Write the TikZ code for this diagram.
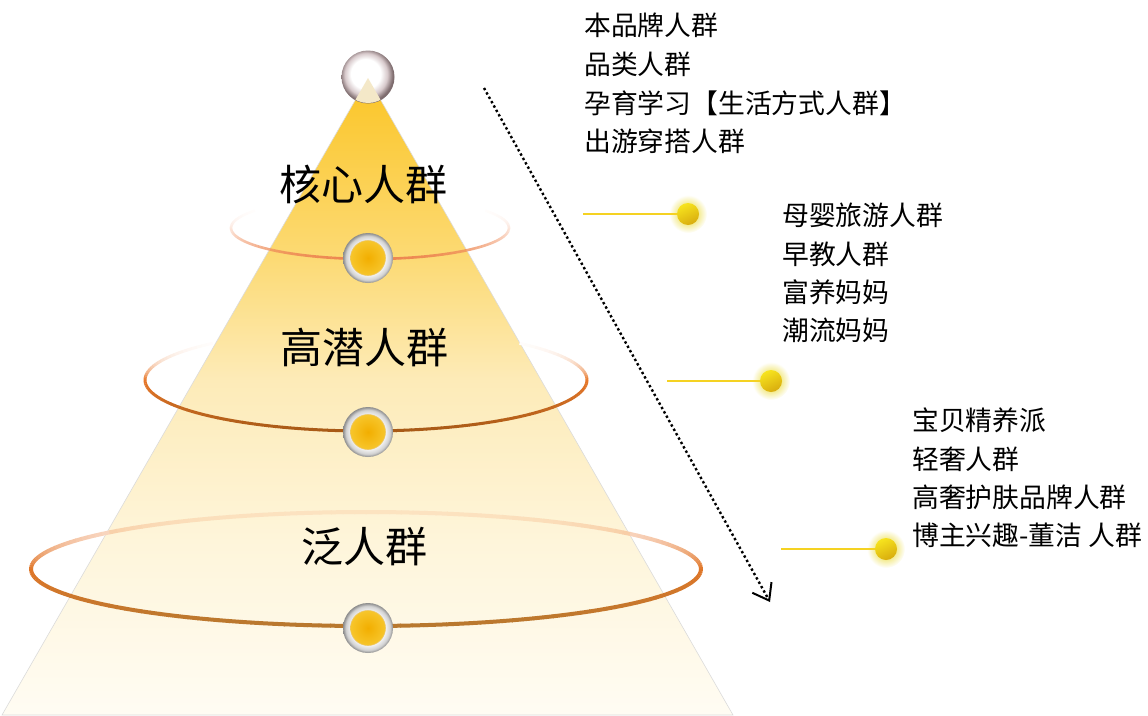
\documentclass[tikz,border=0pt]{standalone}
\usepackage{fontspec}
\setmainfont{Noto Sans CJK SC}
\usetikzlibrary{arrows.meta}

\definecolor{pyt}{HTML}{FBC526}
\definecolor{pye}{HTML}{FCDA74}
\definecolor{pyd}{HTML}{FDEBB8}
\definecolor{pyc}{HTML}{FEF5DA}
\definecolor{pyb}{HTML}{FFFCF3}
\definecolor{sph1}{HTML}{D8CACC}
\definecolor{sph2}{HTML}{7E6C6E}
\definecolor{rg1}{HTML}{D2D2D2}
\definecolor{rg2}{HTML}{8C8C8C}
\definecolor{cr1}{HTML}{F2AE00}
\definecolor{cr2}{HTML}{F9D03E}
\definecolor{crb}{HTML}{EDC663}
\definecolor{gl1}{HTML}{ECDD3A}
\definecolor{gl2}{HTML}{F3EA8A}
\definecolor{tipc}{HTML}{F4E8C8}
\definecolor{conncol}{HTML}{F5D222}
\definecolor{gdt}{HTML}{F7E41E}
\definecolor{gdb}{HTML}{D8AC0E}
\definecolor{rAt}{HTML}{F8B090}
\definecolor{rAm}{HTML}{F4A078}
\definecolor{rAb}{HTML}{EC8650}
\definecolor{rBt}{HTML}{F0A070}
\definecolor{rBm}{HTML}{E8782A}
\definecolor{rBb}{HTML}{A85A16}
\definecolor{rCt}{HTML}{F5A070}
\definecolor{rCm}{HTML}{E07628}
\definecolor{rCb}{HTML}{B8782E}

\pgfdeclareverticalshading{pyrshade}{100bp}{color(0bp)=(pyb); color(25bp)=(pyb); color(38.7bp)=(pyc); color(51.3bp)=(pyd); color(60.9bp)=(pye); color(75bp)=(pyt); color(100bp)=(pyt)}
\pgfdeclareradialshading{sphereshade}{\pgfpoint{-3bp}{4bp}}{color(0bp)=(white); color(14bp)=(white); color(20bp)=(sph1); color(25bp)=(sph2); color(50bp)=(sph2)}
\pgfdeclareradialshading{ringshade}{\pgfpoint{0bp}{0bp}}{color(0bp)=(white); color(17bp)=(white!96!black); color(22bp)=(rg1); color(25bp)=(rg2); color(50bp)=(rg2)}
\pgfdeclareradialshading{coreshade}{\pgfpoint{0bp}{0bp}}{color(0bp)=(cr1); color(25bp)=(cr2); color(50bp)=(cr2)}
\pgfdeclareradialshading{glowshade}{\pgfpoint{0bp}{0bp}}{color(0bp)=(gl1); color(13bp)=(gl2); color(25bp)=(white); color(50bp)=(white)}

% local colour of the pyramid at height \ym -> colour bgl
\newcommand\pyrcolorat{%
  \pgfmathsetmacro\fv{(715-\ym)/637}%
  \ifdim\fv pt<0.275pt
    \pgfmathsetmacro\bp{max(0,\fv)/0.275*100}\colorlet{bgl}{pyc!\bp!pyb}%
  \else\ifdim\fv pt<0.526pt
    \pgfmathsetmacro\bp{(\fv-0.275)/0.251*100}\colorlet{bgl}{pyd!\bp!pyc}%
  \else\ifdim\fv pt<0.717pt
    \pgfmathsetmacro\bp{(\fv-0.526)/0.191*100}\colorlet{bgl}{pye!\bp!pyd}%
  \else
    \pgfmathsetmacro\bp{min(1,(\fv-0.717)/0.283)*100}\colorlet{bgl}{pyt!\bp!pye}%
  \fi\fi\fi
}

% ring drawn as short segments whose colour fades with height (pre-blended with background)
% #1 cx, #2 cy, #3 rx, #4 ry, #5 width, #6 top col, #7 side col, #8 bottom col
% \rso side opacity, \rto top opacity, \rex exponent
\newcommand\myring[8]{%
  \foreach \a in {0,2,...,358} {
    \pgfmathsetmacro\tv{sin(\a+1)}
    \pgfmathsetmacro\op{\tv<0 ? \rto+(\rso-\rto)*pow(1+\tv+0.0001,\rex) : \rso+(1-\rso)*\tv}
    \ifdim\op pt>0.02pt
      \pgfmathsetmacro\opp{100*\op}
      \pgfmathsetmacro\pc{\tv<0 ? -100*\tv : 100*\tv}
      \pgfmathsetmacro\isneg{\tv<0 ? 1 : 0}
      \pgfmathsetmacro\xm{#1+#3*cos(\a+1)}
      \pgfmathsetmacro\ym{#2+#4*sin(\a+1)}
      \pgfmathsetmacro\inside{abs(\xm-368) < (\ym-78)*0.5745 ? 1 : 0}
      \ifdim\isneg pt>0.5pt
        \colorlet{segc}{#6!\pc!#7}
      \else
        \colorlet{segc}{#8!\pc!#7}
      \fi
      \ifdim\inside pt>0.5pt
        \pyrcolorat
        \colorlet{segd}{segc!\opp!bgl}
      \else
        \colorlet{segd}{segc!\opp!white}
      \fi
      \draw[line width=#5, draw=segd, line cap=butt]
        ({#1+#3*cos(\a)},{#2+#4*sin(\a)}) -- ({#1+#3*cos(\a+2.15)},{#2+#4*sin(\a+2.15)});
    \fi
  }%
}

\tikzset{
  biglabel/.style={inner sep=0pt, font=\fontsize{42}{50}\selectfont, text=black},
  item/.style={inner sep=0pt, anchor=west, font=\fontsize{26.8}{30}\selectfont, text=black},
  ringdot/.style={circle, inner sep=0pt, minimum size=50pt, shade, shading=ringshade,
    path picture={\shadedraw[shading=coreshade, draw=crb, line width=0.6pt] (path picture bounding box.center) circle (17.5pt);}},
  spherenode/.style={circle, inner sep=0pt, minimum size=53pt, shade, shading=sphereshade},
  gdot/.style={circle, inner sep=0pt, minimum size=22pt, shade, top color=gdt, bottom color=gdb, shading angle=25},
  conn/.style={draw=conncol, line width=2pt},
  flowarrow/.style={draw=black, line width=2.4pt, dash pattern=on 2.4pt off 2.6pt, -{Straight Barb[length=15pt, width=22pt, line width=2pt]}},
}

\begin{document}
\begin{tikzpicture}[x=1pt, y=-1pt]
\useasboundingbox (0,0) rectangle (1148,715);

% pyramid
\shade[shading=pyrshade, draw=black!14, line width=0.6pt] (368,78) -- (733,715) -- (2,715) -- cycle;

% rings
\def\rso{0.25}\def\rto{0}\def\rex{3}
\myring{370}{228}{139}{31}{2.6pt}{rAt}{rAm}{rAb}
\def\rso{1}\def\rto{0}\def\rex{3}
\myring{366}{380}{221}{51}{3pt}{rBt}{rBm}{rBb}
\def\rso{1}\def\rto{0.2}\def\rex{1.5}
\myring{366}{569}{335}{57}{4pt}{rCt}{rCm}{rCb}

% apex sphere
\node[spherenode] (apex) at (368,77) {};
\begin{scope}
  \clip (apex.center) circle (26pt);
  \fill[tipc] (368,78) -- (382.4,103) -- (353.6,103) -- cycle;
\end{scope}

% level dots
\node[ringdot] (d1) at (368,258) {};
\node[ringdot] (d2) at (368,432) {};
\node[ringdot] (d3) at (368,628) {};

% level labels
\node[biglabel] (core) at (363,184) {核心人群};
\node[biglabel] (high) at (364,347) {高潜人群};
\node[biglabel] (wide) at (364,547) {泛人群};

% dotted arrow
\coordinate (arrS) at (484,88);
\coordinate (arrE) at (770,602);
\draw[flowarrow] (arrS) -- (arrE);

% glow dots and connectors
\shade[shading=glowshade] (688,214) circle (19pt);
\shade[shading=glowshade] (771,381) circle (19pt);
\shade[shading=glowshade] (886,549) circle (19pt);
\coordinate (c1) at (583,214);
\coordinate (c2) at (667,381);
\coordinate (c3) at (781,549);
\node[gdot] (g1) at (688,214) {};
\node[gdot] (g2) at (771,381) {};
\node[gdot] (g3) at (886,549) {};
\draw[conn] (c1) -- (g1);
\draw[conn] (c2) -- (g2);
\draw[conn] (c3) -- (g3);

% lists
\node[item] (a1) at (584,25) {本品牌人群};
\node[item] (a2) at (584,64) {品类人群};
\node[item] (a3) at (584,103) {孕育学习【生活方式人群】};
\node[item] (a4) at (584,141) {出游穿搭人群};

\node[item] (b1) at (782,215) {母婴旅游人群};
\node[item] (b2) at (782,254) {早教人群};
\node[item] (b3) at (782,292) {富养妈妈};
\node[item] (b4) at (782,330) {潮流妈妈};

\node[item] (e1) at (912,420) {宝贝精养派};
\node[item] (e2) at (912,459) {轻奢人群};
\node[item] (e3) at (912,497) {高奢护肤品牌人群};
\node[item] (e4) at (912,535) {博主兴趣-董洁 人群};
\end{tikzpicture}
\end{document}
